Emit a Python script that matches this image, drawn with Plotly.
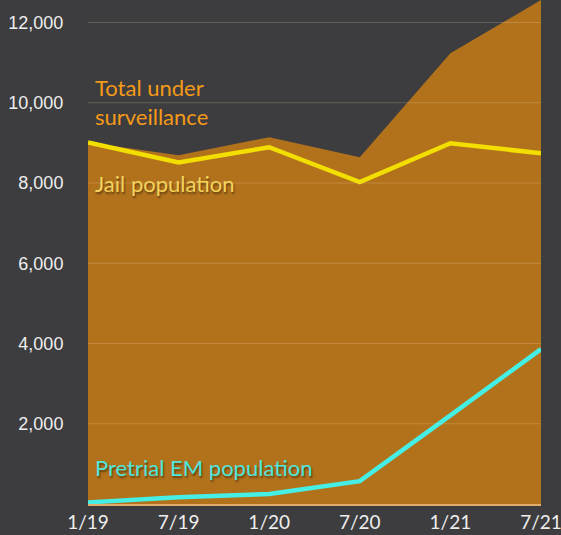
import plotly.graph_objects as go

periods = ["1/19", "7/19", "1/20", "7/20", "1/21", "7/21"]
total_surveillance = [9010, 8690, 9140, 8640, 11230, 12560]
jail_population = [9010, 8510, 8890, 8020, 8990, 8740]
pretrial_em = [40, 170, 250, 570, 2210, 3860]
y_ticks = [2000, 4000, 6000, 8000, 10000, 12000]
y_tick_labels = ["2,000", "4,000", "6,000", "8,000", "10,000", "12,000"]

xs = list(range(len(periods)))
BG = "#3d3d3f"

fig = go.Figure()
fig.add_trace(go.Scatter(x=xs, y=total_surveillance, mode="lines", fill="tozeroy",
                         fillcolor="#b2721c", line=dict(width=0, color="#b2721c"),
                         hoverinfo="skip", showlegend=False))

# gridlines drawn above the filled area, at the tick values
for t in y_ticks:
    fig.add_shape(type="line", xref="paper", x0=0, x1=1, yref="y", y0=t, y1=t,
                  line=dict(color="rgba(255,230,190,0.2)", width=1), layer="above")

fig.add_trace(go.Scatter(x=xs, y=jail_population, mode="lines",
                         line=dict(width=4.5, color="#f2df00"), showlegend=False))
fig.add_trace(go.Scatter(x=xs, y=pretrial_em, mode="lines",
                         line=dict(width=4.5, color="#45efe6"), showlegend=False))

shadow = "1px 2px 2px rgba(0,0,0,0.45)"
fig.add_annotation(xref="paper", x=0.01, y=10030, xanchor="left", yanchor="middle",
                   text="Total under<br>surveillance", showarrow=False, align="left",
                   font=dict(family="Lato", size=22, color="#f49a18"))
fig.add_annotation(xref="paper", x=0.01, y=7990, xanchor="left", yanchor="middle",
                   text="Jail population", showarrow=False, align="left",
                   font=dict(family="Lato", size=22, color="#f4d35c", shadow=shadow))
fig.add_annotation(xref="paper", x=0.01, y=920, xanchor="left", yanchor="middle",
                   text="Pretrial EM population", showarrow=False, align="left",
                   font=dict(family="Lato", size=22, color="#4fe6dc", shadow=shadow))

fig.update_layout(
    width=561, height=535,
    margin=dict(l=88, r=20, t=0, b=31),
    paper_bgcolor=BG, plot_bgcolor=BG,
    xaxis=dict(range=[0, 5], tickmode="array", tickvals=xs, ticktext=periods,
               showgrid=False, zeroline=False, showline=True, linecolor="#e0ad6a",
               linewidth=2, ticklabeloverflow="allow", layer="above traces",
               tickfont=dict(family="Lato", size=19, color="#eeeeee"),
               fixedrange=True),
    yaxis=dict(range=[0, 12560], tickmode="array", tickvals=y_ticks, ticktext=y_tick_labels,
               showgrid=False, zeroline=False, ticks="outside", ticklen=20,
               tickcolor="rgba(0,0,0,0)",
               tickfont=dict(family="Liberation Sans", size=18, color="#eeeeee"),
               fixedrange=True),
)

fig.write_html("out.html", config={"displayModeBar": False},
               post_script="document.body.style.margin='0';")
